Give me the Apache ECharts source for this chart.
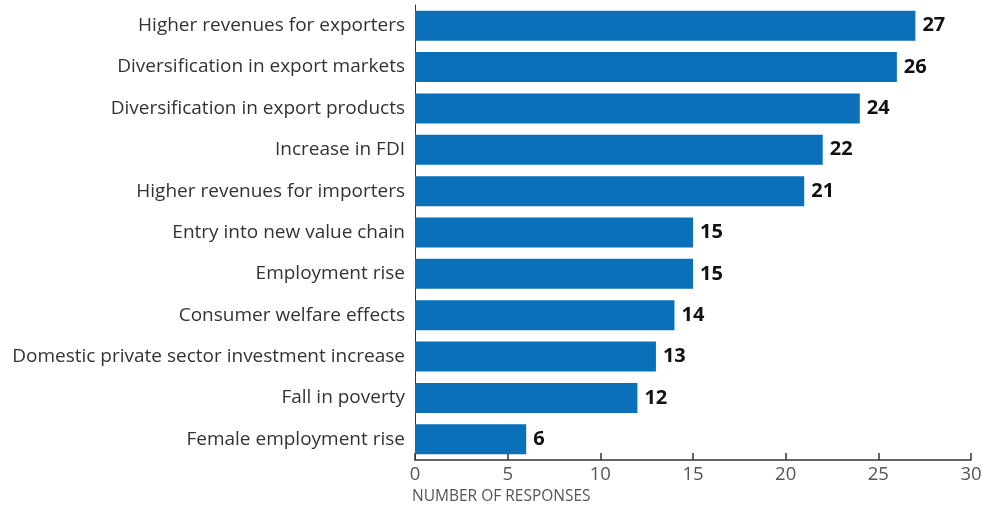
<!DOCTYPE html>
<html><head><meta charset="utf-8">
<script src="https://cdn.jsdelivr.net/npm/echarts@6/dist/echarts.min.js"></script>
<style>html,body{margin:0;padding:0;background:#fff}#c{width:986px;height:507px}</style>
</head><body><div id="c"></div>
<script>
const categories = [
  "Higher revenues for exporters",
  "Diversification in export markets",
  "Diversification in export products",
  "Increase in FDI",
  "Higher revenues for importers",
  "Entry into new value chain",
  "Employment rise",
  "Consumer welfare effects",
  "Domestic private sector investment increase",
  "Fall in poverty",
  "Female employment rise"
];
const values = [27, 26, 24, 22, 21, 15, 15, 14, 13, 12, 6];
const xTicks = [0, 5, 10, 15, 20, 25, 30];

const chart = echarts.init(document.getElementById('c'));
const FONT = "'Open Sans', sans-serif";
chart.setOption({
  animation: false,
  grid: {left: 415, right: 15, top: 5, bottom: 47, containLabel: false},
  xAxis: {
    type: 'value', min: xTicks[0], max: xTicks[xTicks.length-1], interval: 5,
    name: 'NUMBER OF RESPONSES', nameLocation: 'start',
    nameGap: 0,
    nameTextStyle: {fontFamily: FONT, fontSize: 15.5, color: '#555', align: 'left', verticalAlign: 'top', padding: [29, 0, 0, -3]},
    axisLine: {show: true, lineStyle: {color: '#333', width: 1.5}},
    axisTick: {show: true, inside: true, length: 7, lineStyle: {color: '#333', width: 1.5}},
    axisLabel: {fontFamily: FONT, fontSize: 18.5, color: '#555', margin: 5},
    splitLine: {show: false}
  },
  yAxis: {
    type: 'category', data: categories, inverse: true,
    axisLine: {show: true, lineStyle: {color: '#333', width: 1}},
    axisTick: {show: false},
    axisLabel: {fontFamily: FONT, fontSize: 19, color: '#333', margin: 10, padding: [5, 0, 0, 0]}
  },
  series: [{
    type: 'bar', data: values, barWidth: 30,
    itemStyle: {color: '#0a70b9'},
    label: {show: true, position: 'right', distance: 7, fontFamily: FONT, fontSize: 20, fontWeight: 'bold', color: '#111', padding: [3, 0, 0, 0]}
  }]
});
</script></body></html>
